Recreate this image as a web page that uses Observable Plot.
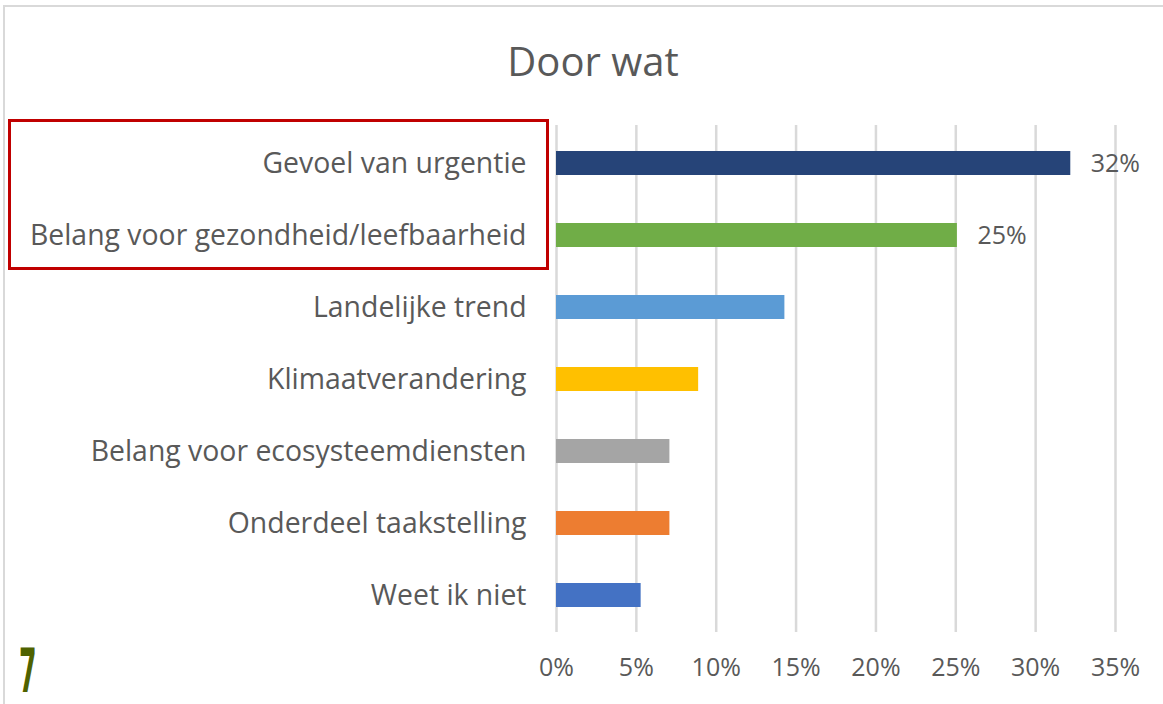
<!DOCTYPE html>
<html>
<head>
<meta charset="utf-8">
<script src="https://cdn.jsdelivr.net/npm/d3@7"></script>
<script src="https://cdn.jsdelivr.net/npm/@observablehq/plot@0.6"></script>
<style>
  html, body { margin: 0; padding: 0; background: #fff; width: 1163px; height: 704px; overflow: hidden; }
  #frame { position: absolute; left: 3px; top: 5px; width: 1170px; height: 720px; border-top: 2px solid #d9d9d9; border-left: 2px solid #d9d9d9; }
  #title { position: absolute; left: 0; width: 1186px; top: 33px; text-align: center; font-family: "Open Sans", sans-serif; font-size: 40px; color: #595959; }
  #chart { position: absolute; left: 0; top: 100px; }
  #redbox { position: absolute; left: 8px; top: 119px; width: 535px; height: 145px; border: 3px solid #c00000; }
  #seven { position: absolute; left: 19px; top: 641px; font-family: "DejaVu Sans", sans-serif; font-weight: 600; font-size: 60px; color: #4f6200; transform: scaleX(0.42); transform-origin: left top; line-height: 1; }
</style>
</head>
<body>
<div id="frame"></div>
<div id="title">Door wat</div>
<div id="chart"></div>
<div id="redbox"></div>
<div id="seven">7</div>
<script>
const categories = ["Gevoel van urgentie", "Belang voor gezondheid/leefbaarheid", "Landelijke trend", "Klimaatverandering", "Belang voor ecosysteemdiensten", "Onderdeel taakstelling", "Weet ik niet"];
const values = [0.322, 0.251, 0.143, 0.089, 0.071, 0.071, 0.053];
const colors = ["#264478", "#70ad47", "#5b9bd5", "#ffc000", "#a5a5a5", "#ed7d31", "#4472c4"];
const valueLabels = ["32%", "25%", "", "", "", "", ""];
const xTicks = [0, 0.05, 0.10, 0.15, 0.20, 0.25, 0.30, 0.35];

const data = categories.map((c, i) => ({category: c, value: values[i], color: colors[i], label: valueLabels[i]}));
const pct = d => Math.round(d * 100) + "%";

const plot = Plot.plot({
  width: 1163,
  height: 592,
  marginLeft: 556,
  marginRight: 48,
  marginTop: 25,
  marginBottom: 60,
  style: {fontFamily: "Open Sans, sans-serif", fontSize: "25px", color: "#595959", background: "transparent"},
  x: {domain: [0, 0.35], ticks: xTicks, tickFormat: pct},
  y: {domain: categories, paddingInner: 0.67, paddingOuter: 0.335},
  marks: [
    Plot.gridX(xTicks, {stroke: "#d9d9d9", strokeWidth: 2.5, strokeOpacity: 1}),
    Plot.barX(data, {x: "value", y: "category", fill: "color"}),
    Plot.text(data.filter(d => d.label), {x: "value", y: "category", text: "label", dx: 20, textAnchor: "start", fill: "#595959", fontSize: 25}),
    Plot.axisX({ticks: xTicks, tickSize: 0, tickPadding: 26, tickFormat: pct, label: null, fontSize: 25}),
    Plot.axisY({tickSize: 0, tickPadding: 30, label: null, fontSize: 28.4})
  ]
});
document.getElementById("chart").appendChild(plot);
</script>
</body>
</html>
